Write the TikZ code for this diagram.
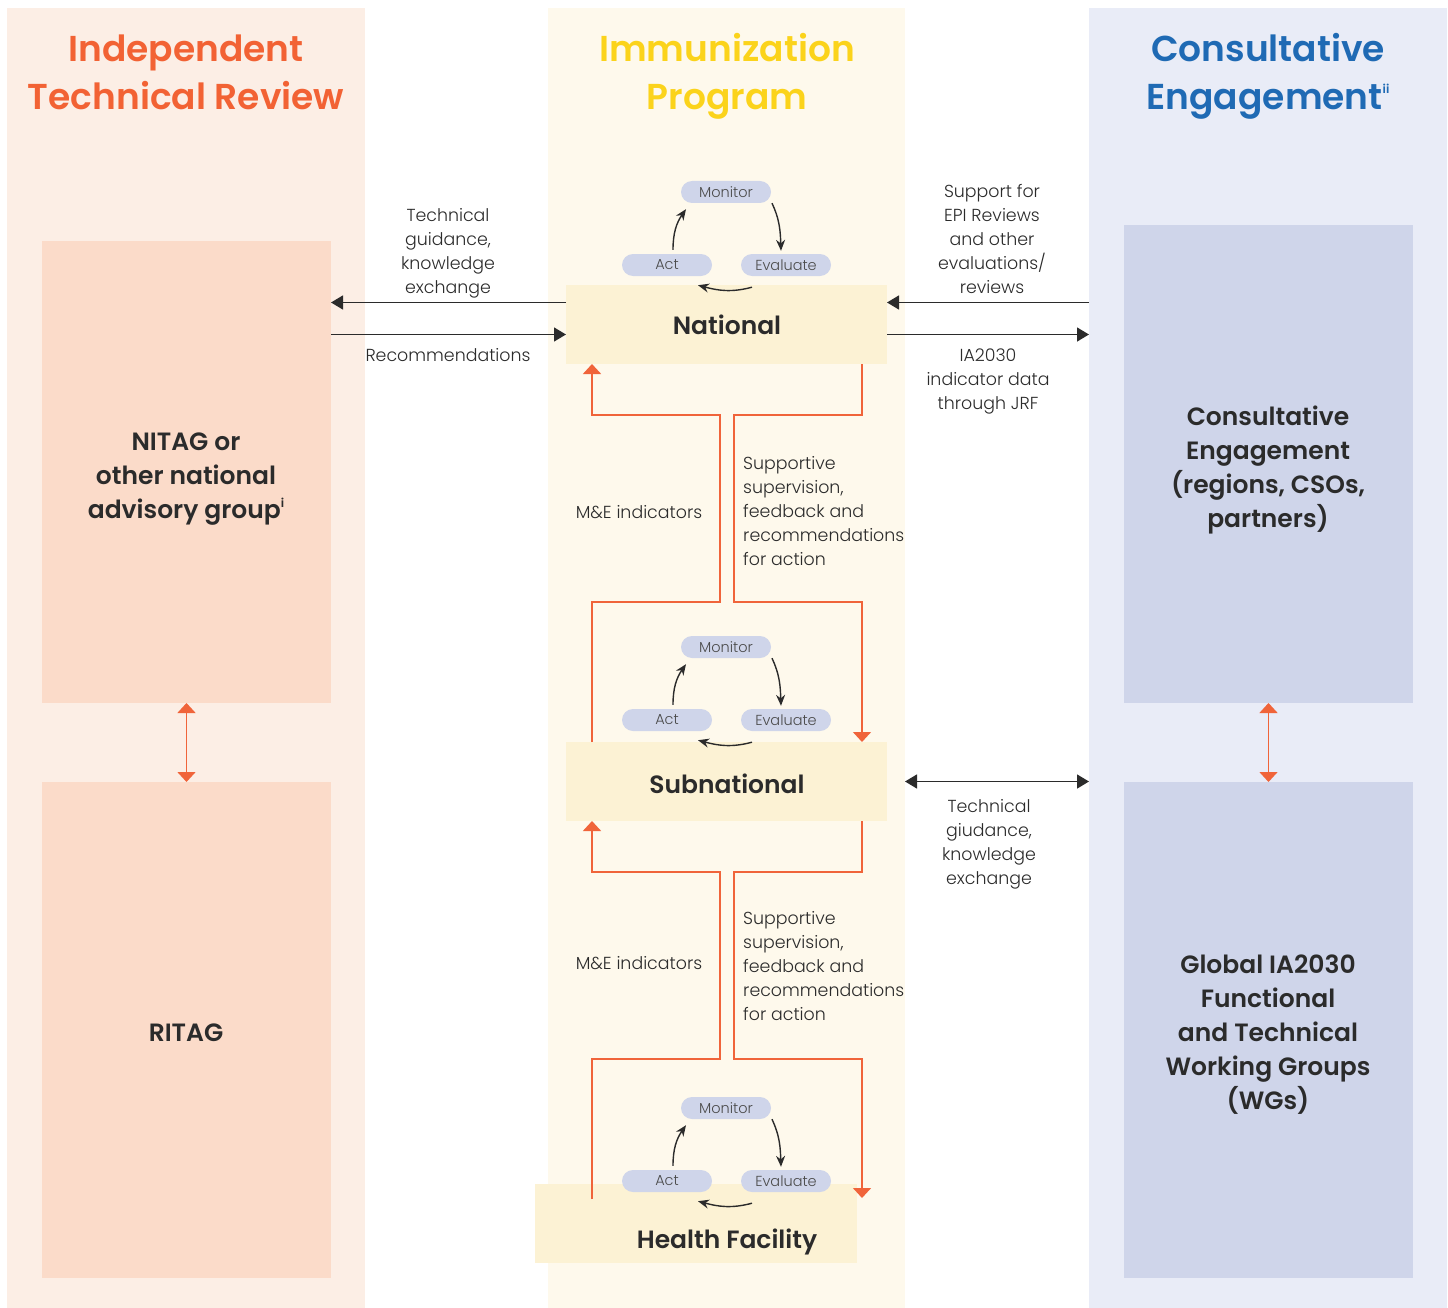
\documentclass[tikz,border=0pt]{standalone}
\usepackage{fontspec}
\setmainfont{Poppins}[UprightFont=* Light, BoldFont=* SemiBold]
\usetikzlibrary{arrows.meta}
\definecolor{peachbg}{HTML}{FCEEE5}
\definecolor{peachbox}{HTML}{FBDBC9}
\definecolor{orangeT}{HTML}{F26234}
\definecolor{orangeL}{HTML}{F0643A}
\definecolor{yellowbg}{HTML}{FEF9EC}
\definecolor{yellowbox}{HTML}{FCF2D4}
\definecolor{yellowT}{HTML}{FBD31B}
\definecolor{bluebg}{HTML}{E9ECF7}
\definecolor{bluebox}{HTML}{CFD5EA}
\definecolor{blueT}{HTML}{1F6AB4}
\definecolor{txt}{HTML}{2B2B2B}
\newcommand\supx[1]{\raisebox{0.8ex}{\fontsize{12}{12}\selectfont #1}}
\newcommand\pdcacycle[2]{%
  \begin{scope}[shift={(0,#2)}]
    \node[pill] (#1mon) at (726,192) {Monitor};
    \node[pill] (#1act) at (667,265) {Act};
    \node[pill] (#1eva) at (786,265) {Evaluate};
    \draw[cyc] ([shift={(6pt,4pt)}]#1act.north) to[out=90,in=-125] ([shift={(-40pt,-6pt)}]#1mon.south);
    \draw[cyc] ([shift={(46pt,0pt)}]#1mon.south) to[out=-65,in=92] ([shift={(-5pt,3pt)}]#1eva.north);
    \draw[cyc] ([shift={(-34pt,-11pt)}]#1eva.south) to[out=195,in=-15] ([shift={(31pt,-9pt)}]#1act.south);
  \end{scope}}
\tikzset{
  box/.style={draw=none, inner sep=0pt, outer sep=0pt, anchor=north west},
  pill/.style={fill=bluebox, rounded corners=11pt, minimum width=90pt, minimum height=22pt, inner sep=0pt, text=txt!85, font=\fontsize{14.5}{14.5}\selectfont},
  cyc/.style={draw=txt, line width=1.4pt, -{Stealth[length=11pt,width=9pt]}},
  blk/.style={draw=txt, line width=1.5pt, -{Triangle[length=12pt,width=14pt]}},
  orl/.style={draw=orangeL, line width=1.5pt},
  ortip/.style={-{Triangle[length=10pt,width=18pt]}},
  lbl/.style={align=center, text=txt, font=\fontsize{17.4}{24}\selectfont, inner sep=0pt},
  lbll/.style={align=left, text=txt, font=\fontsize{17.4}{24}\selectfont, inner sep=0pt, anchor=north west},
  ttl/.style={align=center, font=\fontsize{36}{48}\selectfont\bfseries, inner sep=0pt},
  lvl/.style={font=\fontsize{25}{30}\selectfont\bfseries, text=txt, inner sep=0pt},
  inbox/.style={align=center, font=\fontsize{25}{34}\selectfont\bfseries, text=txt, inner sep=0pt},
}
\begin{document}
\begin{tikzpicture}[x=1pt, y=-1pt]
\useasboundingbox (0,0) rectangle (1448,1308);
% column backgrounds
\node[box, fill=peachbg, minimum width=358pt, minimum height=1300pt] (leftcol) at (7,8) {};
\node[box, fill=yellowbg, minimum width=357pt, minimum height=1300pt] (midcol) at (548,8) {};
\node[box, fill=bluebg, minimum width=358pt, minimum height=1300pt] (rightcol) at (1089,8) {};
% titles
\node[ttl, text=orangeT] (tleft) at (186,72) {Independent\\Technical Review};
\node[ttl, text=yellowT] (tmid) at (727,76) {Immunization\\Program};
\node[ttl, text=blueT] (tright) at (1268,76) {Consultative\\Engagement\supx{ii}};
% left boxes
\node[box, fill=peachbox, minimum width=289pt, minimum height=462pt] (nitag) at (42,241) {};
\node[inbox] at (186,479) {NITAG or\\other national\\advisory group\supx{i}};
\node[box, fill=peachbox, minimum width=289pt, minimum height=496pt] (ritag) at (42,782) {};
\node[inbox] at (186,1033) {RITAG};
% right boxes
\node[box, fill=bluebox, minimum width=289pt, minimum height=478pt] (ce) at (1124,225) {};
\node[inbox] at (1268,470) {Consultative\\Engagement\\(regions, CSOs,\\partners)};
\node[box, fill=bluebox, minimum width=289pt, minimum height=496pt] (wg) at (1124,782) {};
\node[inbox] at (1268,1035) {Global IA2030\\Functional\\and Technical\\Working Groups\\(WGs)};
% level boxes
\node[box, fill=yellowbox, minimum width=321pt, minimum height=79pt] (nat) at (566,285) {};
\node[lvl] at (727,325) {National};
\node[box, fill=yellowbox, minimum width=321pt, minimum height=79pt] (sub) at (566,742) {};
\node[lvl] at (727,784) {Subnational};
\node[box, fill=yellowbox, minimum width=322pt, minimum height=79pt] (hf) at (535,1184) {};
\node[lvl] at (727,1242) {Health Facility};
% cycles
\pdcacycle{a}{0}
\pdcacycle{b}{455}
\pdcacycle{c}{916}
% orange feedback paths: national <-> subnational
\draw[orl, ortip] ([xshift=26pt]sub.north west) |- (720,602) |- (592,415) -- ([xshift=26pt]nat.south west);
\draw[orl, ortip] ([xshift=-25pt]nat.south east) |- (734,415) |- (862,602) -- ([xshift=-25pt]sub.north east);
% subnational <-> health facility
\coordinate (hfL) at (592,1199);
\coordinate (hfR) at (862,1198);
\draw[orl, ortip] (hfL) |- (720,1059) |- (592,872) -- ([xshift=26pt]sub.south west);
\draw[orl, ortip] ([xshift=-25pt]sub.south east) |- (734,872) |- (862,1059) -- (hfR);
% labels in middle
\node[lbl] (me1) at (639,512) {M\&E indicators};
\node[lbll] (ss1) at (743,456) {Supportive\\supervision,\\feedback and\\recommendations\\for action};
\node[lbl] (me2) at (639,963) {M\&E indicators};
\node[lbll] (ss2) at (743,911) {Supportive\\supervision,\\feedback and\\recommendations\\for action};
% black arrows left
\draw[blk] ([yshift=22pt]nat.west) -- ([yshift=22pt]nat.west -| nitag.east);
\draw[blk] ([yshift=-10pt]nat.west -| nitag.east) -- ([yshift=-10pt]nat.west);
\node[lbl] (l1) at (448,253) {Technical\\guidance,\\knowledge\\exchange};
\node[lbl] (l2) at (448,355) {Recommendations};
% black arrows right
\draw[blk] ([yshift=22pt]nat.east -| rightcol.west) -- ([yshift=22pt]nat.east);
\draw[blk] ([yshift=-10pt]nat.east) -- ([yshift=-10pt]nat.east -| rightcol.west);
\node[lbl] (r1) at (992,239) {Support for\\EPI Reviews\\and other\\evaluations/\\reviews};
\node[lbl] (r2) at (988,381) {IA2030\\indicator data\\through JRF};
\draw[blk, {Triangle[length=12pt,width=14pt]}-{Triangle[length=12pt,width=14pt]}] (sub.east -| midcol.east) -- (sub.east -| rightcol.west);
\node[lbl] (r3) at (989,844) {Technical\\giudance,\\knowledge\\exchange};
% orange vertical double arrows
\draw[orl, {Triangle[length=10pt,width=18pt]}-{Triangle[length=10pt,width=18pt]}] (nitag.south) -- (ritag.north);
\draw[orl, {Triangle[length=10pt,width=18pt]}-{Triangle[length=10pt,width=18pt]}] (ce.south) -- (wg.north);
\end{tikzpicture}
\end{document}
